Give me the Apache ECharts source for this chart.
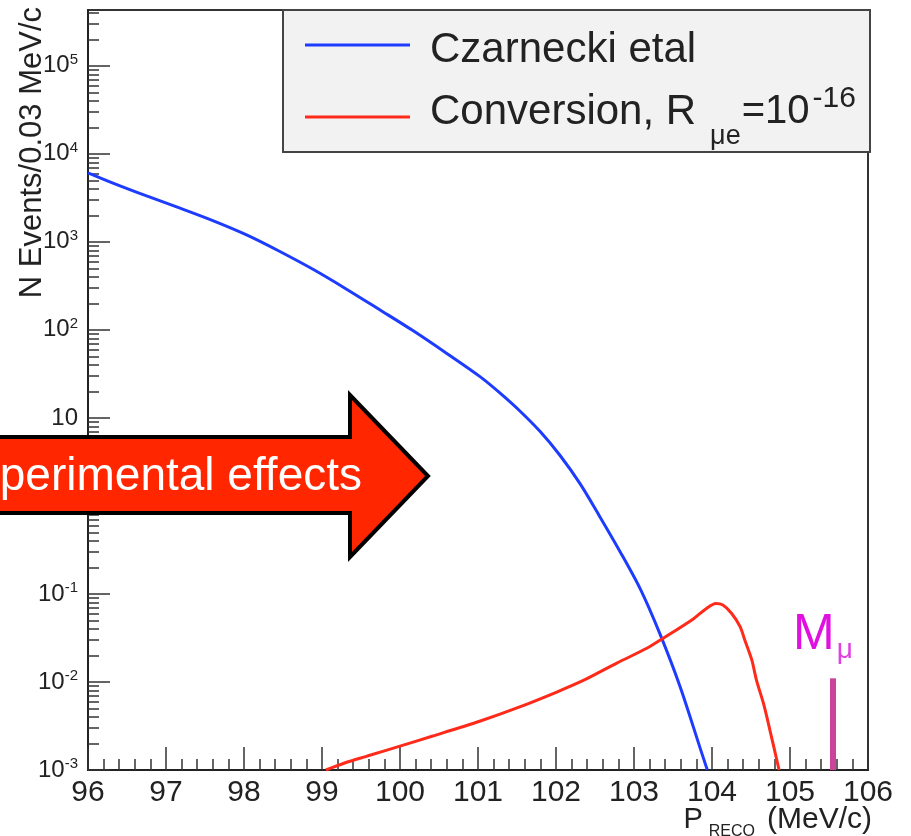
<!DOCTYPE html>
<html>
<head>
<meta charset="utf-8">
<script src="https://cdn.jsdelivr.net/npm/echarts@6.0.0/dist/echarts.min.js"></script>
<style>
  html, body { margin: 0; padding: 0; background: #fff; }
  #chart { width: 911px; height: 836px; }
</style>
</head>
<body>
<div id="chart"></div>
<script>
// momentum axis (MeV/c)
const xMin = 96;
const xMax = 106;
// N events / 0.03 MeV/c, log scale
const yMin = 0.001;
const yMax = 4.3e5;
const yMajorTicks = [1e-3, 1e-2, 1e-1, 1, 10, 100, 1e3, 1e4, 1e5];
const yLabelTicks = [1e-3, 1e-2, 1e-1, 10, 100, 1e3, 1e4, 1e5];
const minorSteps = [2, 3, 4, 5, 6, 7, 8, 9];

// Czarnecki etal (DIO spectrum)
const blueX = [96.0, 96.32, 96.76, 97.18, 97.6, 98.04, 98.46, 98.89, 99.32, 99.74, 100.17, 100.6, 101.03, 101.28,
  101.54, 101.8, 102.05, 102.31, 102.56, 102.82, 103.08, 103.33, 103.59, 103.85, 103.94];
const blueY = [6080, 4650, 3300, 2410, 1740, 1190, 776, 484, 288, 169, 97.4, 53.9, 29.2, 19.2,
  11.9, 6.95, 3.76, 1.78, 0.76, 0.304, 0.114, 0.0356, 0.00889, 0.00175, 0.001];

// Conversion, R_mue = 1e-16
const redX = [99.05, 99.29, 99.58, 100.0, 100.42, 101.03, 101.5, 102.01, 102.35, 102.78, 103.17, 103.37, 103.76,
  103.92, 104.05, 104.14, 104.25, 104.36, 104.42, 104.51, 104.57, 104.66, 104.74, 104.86];
const redY = [0.001, 0.0012, 0.00144, 0.00187, 0.00243, 0.0036, 0.00507, 0.00769, 0.0104, 0.0164, 0.0243, 0.0312, 0.052,
  0.0676, 0.078, 0.075, 0.0603, 0.0425, 0.030, 0.0178, 0.0105, 0.0057, 0.0029, 0.001];

// muon mass marker
const muonMass = 105.55;
const muonMarkTop = 0.011;

const FONT = '"Liberation Sans", Arial, Helvetica, sans-serif';
const AXIS_COLOR = '#222';

let yMinorTicks = [];
yMajorTicks.forEach(function (t) {
  minorSteps.forEach(function (m) {
    if (t * m < yMax) yMinorTicks.push(t * m);
  });
});

const chart = echarts.init(document.getElementById('chart'));

chart.setOption({
  animation: false,
  textStyle: { fontFamily: FONT },
  grid: {
    left: 88, right: 43, top: 10, bottom: 66,
    show: true, borderColor: '#333', borderWidth: 2,
    outerBoundsMode: 'none'
  },
  xAxis: {
    type: 'value',
    min: xMin,
    max: xMax,
    interval: 1,
    axisLine: { show: true, onZero: false, lineStyle: { color: AXIS_COLOR, width: 2 } },
    axisTick: { show: true, inside: true, length: 23, lineStyle: { color: '#333', width: 1.5 } },
    minorTick: { show: true, splitNumber: 5, length: 11, lineStyle: { color: '#333', width: 1.5 } },
    axisLabel: { margin: 8, fontSize: 30, color: AXIS_COLOR, fontFamily: FONT },
    splitLine: { show: false },
    minorSplitLine: { show: false }
  },
  yAxis: [{
    type: 'log',
    logBase: 10,
    min: yMin,
    max: yMax,
    axisLine: { show: true, lineStyle: { color: AXIS_COLOR, width: 2 } },
    axisTick: { show: true, inside: true, length: 22, customValues: yMajorTicks, lineStyle: { color: '#333', width: 1.5 } },
    axisLabel: {
      customValues: yLabelTicks,
      margin: 10,
      fontFamily: FONT,
      formatter: function (v) {
        const e = Math.round(Math.log10(v));
        if (e === 1) return '{b|10}';
        return '{b|10}{s|' + e + '}';
      },
      rich: {
        b: { fontSize: 24, color: AXIS_COLOR, fontFamily: FONT },
        s: { fontSize: 15, color: AXIS_COLOR, fontFamily: FONT, padding: [0, 0, 12, 0] }
      }
    },
    splitLine: { show: false }
  }, {
    type: 'log',
    logBase: 10,
    min: yMin,
    max: yMax,
    position: 'left',
    axisLine: { show: false },
    axisLabel: { show: false },
    axisTick: { show: true, inside: true, length: 11, customValues: yMinorTicks, lineStyle: { color: '#333', width: 1.5 } },
    splitLine: { show: false }
  }],
  series: [{
    name: 'Czarnecki etal',
    type: 'line',
    data: blueX.map(function (x, i) { return [x, blueY[i]]; }),
    showSymbol: false,
    smooth: 0.3,
    lineStyle: { color: '#1e3cff', width: 3 },
    itemStyle: { color: '#1e3cff' },
    z: 3
  }, {
    name: 'Conversion',
    type: 'line',
    data: redX.map(function (x, i) { return [x, redY[i]]; }),
    showSymbol: false,
    smooth: 0.3,
    lineStyle: { color: '#ff2a1a', width: 3 },
    itemStyle: { color: '#ff2a1a' },
    z: 3,
    markLine: {
      silent: true,
      symbol: ['none', 'none'],
      lineStyle: { color: '#cc4499', width: 6, type: 'solid' },
      label: {
        show: true,
        position: 'start',
        distance: 14,
        formatter: '{m|M}{u|μ}',
        padding: [0, 20, 0, 0],
        rich: {
          m: { fontSize: 50, color: '#e010e0', fontFamily: FONT },
          u: { fontSize: 28, color: '#e040e0', fontFamily: FONT, padding: [30, 0, 0, 2] }
        }
      },
      data: [[{ coord: [muonMass, muonMarkTop] }, { coord: [muonMass, yMin] }]]
    }
  }],
  graphic: [
    // legend box
    { type: 'rect', z: 50, shape: { x: 283, y: 10, width: 587, height: 142 },
      style: { fill: '#f2f2f2', stroke: '#444', lineWidth: 2 } },
    { type: 'line', z: 51, shape: { x1: 305, y1: 45, x2: 410, y2: 45 },
      style: { stroke: '#1e3cff', lineWidth: 3 } },
    { type: 'line', z: 51, shape: { x1: 305, y1: 117, x2: 410, y2: 117 },
      style: { stroke: '#ff2a1a', lineWidth: 3 } },
    { type: 'text', z: 51, x: 430, y: 50,
      style: { text: 'Czarnecki etal', font: '42px ' + FONT, fill: '#222', verticalAlign: 'middle' } },
    { type: 'text', z: 51, x: 430, y: 112,
      style: {
        text: '{n|Conversion, R}{sub|μe}{e|=10}{sup|-16}',
        verticalAlign: 'middle',
        rich: {
          n: { fontSize: 42, fill: '#222', fontFamily: FONT },
          e: { fontSize: 40, fill: '#222', fontFamily: FONT },
          sub: { fontSize: 27, fill: '#222', fontFamily: FONT, padding: [50, 1, 0, 14] },
          sup: { fontSize: 30, fill: '#222', fontFamily: FONT, padding: [0, 0, 26, 3] }
        }
      } },
    // axis titles
    { type: 'text', z: 20, x: 48, y: 7, rotation: Math.PI / 2,
      style: { text: 'N Events/0.03 MeV/c', font: '31px ' + FONT, fill: '#222', align: 'right', verticalAlign: 'bottom' } },
    { type: 'text', z: 20, x: 872, y: 800,
      style: {
        text: '{p|P}{r|RECO}{q|(MeV/c)}',
        align: 'right',
        verticalAlign: 'top',
        rich: {
          p: { fontSize: 29, fill: '#222', fontFamily: FONT },
          r: { fontSize: 16, fill: '#222', fontFamily: FONT, padding: [24, 12, 0, 6] },
          q: { fontSize: 30, fill: '#222', fontFamily: FONT }
        }
      } },
    // overlay arrow
    { type: 'polygon', z: 100,
      shape: { points: [[-10, 437], [350, 437], [350, 395], [428, 476], [350, 557], [350, 513], [-10, 513]] },
      style: { fill: '#ff2600', stroke: '#000', lineWidth: 4, lineJoin: 'miter' } },
    { type: 'text', z: 101, x: 362, y: 477,
      style: { text: 'Experimental effects', font: '46px ' + FONT, fill: '#fff', align: 'right', verticalAlign: 'middle' } }
  ]
});
</script>
</body>
</html>
